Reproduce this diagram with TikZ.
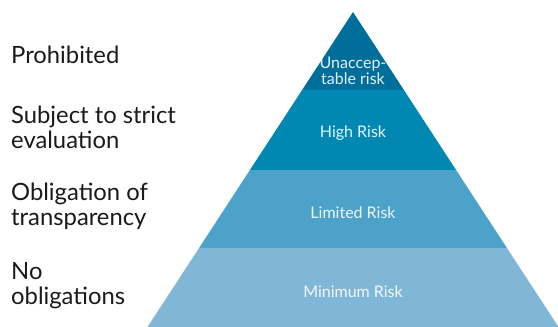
\documentclass[tikz,border=0pt]{standalone}
\usepackage{fontspec}
\setmainfont{Lato}
\usetikzlibrary{positioning, calc}

\definecolor{bandA}{HTML}{006E9B}
\definecolor{bandB}{HTML}{0088B3}
\definecolor{bandC}{HTML}{4CA2C8}
\definecolor{bandD}{HTML}{80B7D7}
\definecolor{sidetext}{HTML}{1A1A1A}

\tikzset{
  sidelabel/.style={anchor=west, align=left, inner sep=0pt, text=sidetext,
    font=\fontsize{23.8}{25}\selectfont},
  bandlabel/.style={align=center, inner sep=0pt, text=white, text opacity=0.9,
    font=\fontsize{16}{16.5}\selectfont}
}

\begin{document}
\begin{tikzpicture}[x=1pt, y=-1pt]
      \useasboundingbox (0,0) rectangle (558,327);

      % ピラミッドの頂点と底辺
      \coordinate (apex) at (353,12);
      \coordinate (baseL) at (147.5,327);
      \coordinate (baseR) at (558.5,327);

      % 帯の描画
      \foreach \ya/\yb/\col in {12/90/bandA, 90/170/bandB, 170/248/bandC, 248/327/bandD} {
        \fill[\col] ($(apex)!{(\ya-12)/315}!(baseL)$) -- ($(apex)!{(\yb-12)/315}!(baseL)$)
          -- ($(apex)!{(\yb-12)/315}!(baseR)$) -- ($(apex)!{(\ya-12)/315}!(baseR)$) -- cycle;
      }

      % 帯のラベル
      \node[bandlabel] (unacceptable) at (353,71) {Unaccep-\\table risk};
      \node[bandlabel] (high) at (353,133) {High Risk};
      \node[bandlabel] (limited) at (353,213) {Limited Risk};
      \node[bandlabel] (minimum) at (353,292) {Minimum Risk};

      % 左側のラベル
      \node[sidelabel] (prohibited) at (11,55) {Prohibited};
      \node[sidelabel] (strict) at (11,127) {Subject to strict\\evaluation};
      \node[sidelabel] (transparency) at (11,206) {Obligation of\\transparency};
      \node[sidelabel] (noobl) at (11,286) {No\\obligations};
  \end{tikzpicture}
\end{document}
